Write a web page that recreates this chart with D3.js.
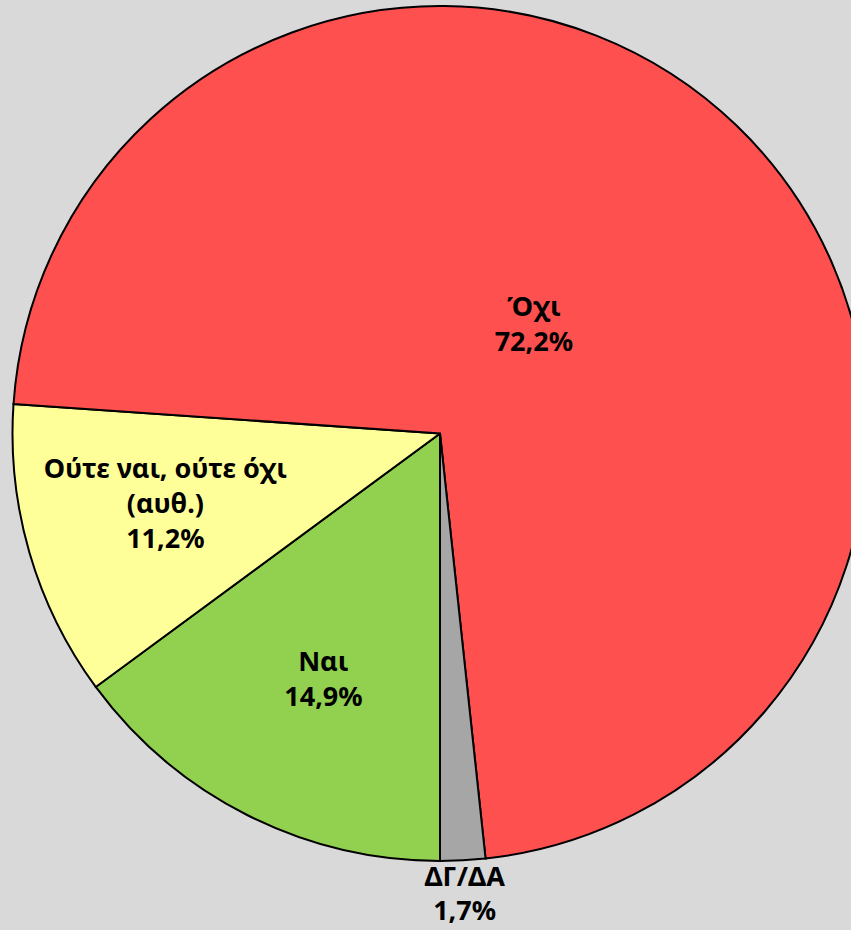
<!DOCTYPE html>
<html>
<head>
<meta charset="utf-8">
<script src="https://cdn.jsdelivr.net/npm/d3@7"></script>
<style>
  html, body { margin: 0; padding: 0; background: #d9d9d9; }
  svg { display: block; }
</style>
</head>
<body>
<svg id="chart" width="851" height="930"></svg>
<script>
// Data
const categories = ["Ναι", "Ούτε ναι, ούτε όχι\n(αυθ.)", "Όχι", "ΔΓ/ΔΑ"];
const values = [14.9, 11.2, 72.2, 1.7];
const valueLabels = ["14,9%", "11,2%", "72,2%", "1,7%"];
const colors = ["#92d050", "#ffff99", "#ff5050", "#a6a6a6"];
// label distance from centre as fraction of radius, and angular nudge in degrees (layout)
const labelRadius = [0.635, 0.663, 0.338, 1.078];
const labelNudge = [-1.4, 1.9, -3.4, 0];

const width = 851, height = 930;
const cx = 440, cy = 433.5, R = 427.5;

const svg = d3.select("#chart");
svg.append("rect").attr("width", width).attr("height", height).attr("fill", "#d9d9d9");

const g = svg.append("g").attr("transform", `translate(${cx},${cy})`);

const pie = d3.pie().sort(null).value(d => d)
  .startAngle(Math.PI).endAngle(Math.PI * 3);
const arcs = pie(values);

const arc = d3.arc().innerRadius(0).outerRadius(R);

g.selectAll("path.slice")
  .data(arcs)
  .join("path")
  .attr("class", "slice")
  .attr("d", arc)
  .attr("fill", (d, i) => colors[i])
  .attr("stroke", "#000")
  .attr("stroke-width", 2)
  .attr("stroke-linejoin", "miter");

const lineH = 35;
arcs.forEach((d, i) => {
  const r = R * labelRadius[i];
  const a = (d.startAngle + d.endAngle) / 2 + labelNudge[i] * Math.PI / 180;
  const x = r * Math.sin(a), y = -r * Math.cos(a);
  const lines = categories[i].split("\n").concat([valueLabels[i]]);
  const lh = i === 3 ? 34 : lineH;
  const t = g.append("text")
    .attr("x", x).attr("y", y)
    .attr("text-anchor", "middle")
    .attr("font-family", "'Noto Sans', 'DejaVu Sans', sans-serif")
    .attr("font-weight", 700)
    .attr("font-size", 27)
    .attr("fill", "#000");
  const n = lines.length;
  lines.forEach((ln, j) => {
    t.append("tspan")
      .attr("x", x)
      .attr("y", y + (j - (n - 1) / 2) * lh)
      .attr("dy", "0.35em")
      .text(ln);
  });
});
</script>
</body>
</html>
